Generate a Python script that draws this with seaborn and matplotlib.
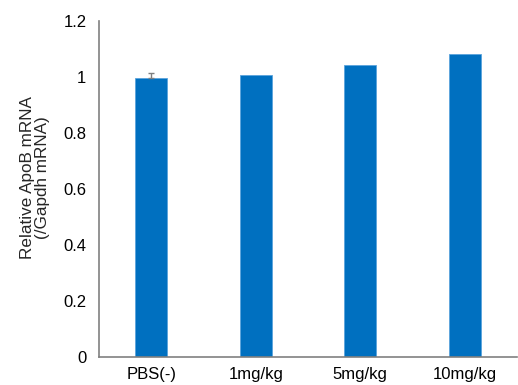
import matplotlib
matplotlib.use("Agg")
import matplotlib.pyplot as plt
import seaborn as sns
import pandas as pd

categories = ["PBS(-)", "1mg/kg", "5mg/kg", "10mg/kg"]
values = [0.998, 1.008, 1.044, 1.081]
errors = [0.017, 0.0, 0.0, 0.0]
yticks = [0, 0.2, 0.4, 0.6, 0.8, 1.0, 1.2]
ytick_labels = ["0", "0.2", "0.4", "0.6", "0.8", "1", "1.2"]

sns.set_style("white")
plt.rcParams["font.family"] = ["Liberation Sans", "DejaVu Sans"]

df = pd.DataFrame({"group": categories, "value": values})

fig = plt.figure(figsize=(5.18, 3.85), dpi=100)
ax = fig.add_axes([0.191, 0.073, 0.807, 0.872])
sns.barplot(data=df, x="group", y="value", order=categories, color="#0070C0",
            saturation=1, width=0.305, edgecolor="#5BA3DC", linewidth=0.6, ax=ax)
for i, (v, e) in enumerate(zip(values, errors)):
    if e > 0:
        ax.errorbar(i, v, yerr=[[0], [e]], fmt="none", ecolor="#7f7f7f",
                    elinewidth=1, capsize=2.5, capthick=1)

ax.set_ylim(0, 1.2)
ax.set_xlim(-0.5, 3.5)
ax.set_yticks(yticks)
ax.set_yticklabels(ytick_labels)
ax.tick_params(axis="both", length=0, labelsize=12, colors="black")
ax.tick_params(axis="y", pad=9)
ax.tick_params(axis="x", pad=7)
ax.set_xlabel("")
ax.set_ylabel("Relative ApoB mRNA\n(/Gapdh mRNA)", fontsize=12.3,
              linespacing=0.95)
ax.yaxis.set_label_coords(-0.118, 0.535)
for s in ["top", "right"]:
    ax.spines[s].set_visible(False)
for s in ["left", "bottom"]:
    ax.spines[s].set_color("#808080")
    ax.spines[s].set_linewidth(1.2)

fig.savefig("out.png", dpi=100)
